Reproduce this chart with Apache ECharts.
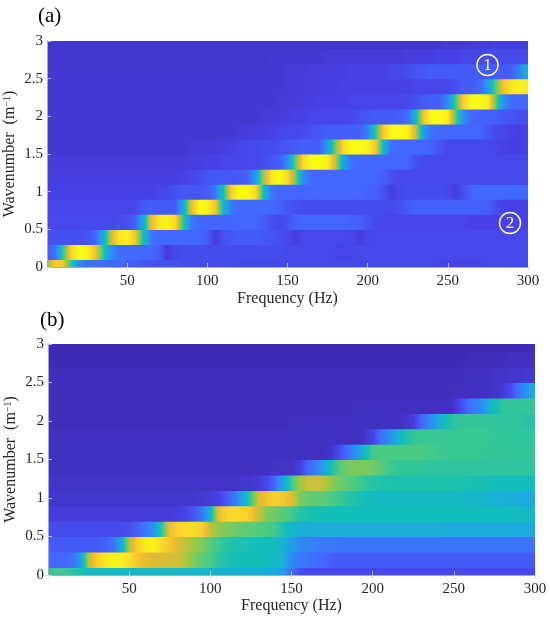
<!DOCTYPE html>
<html lang="en">
<head>
<meta charset="UTF-8">
<title>Wavenumber spectrum</title>
<script src="https://cdn.jsdelivr.net/npm/echarts@6/dist/echarts.min.js"></script>
<style>
    html, body { margin: 0; padding: 0; background: #fff; }
    #main { width: 550px; height: 619px; }
</style>
</head>
<body>
<div id="main"></div>
<script type="text/javascript">
// frequency samples (Hz) and wavenumber rows (1/m)
var frequencies = [0,5,10,15,20,25,30,35,40,45,50,55,60,65,70,75,80,85,90,95,
    100,105,110,115,120,125,130,135,140,145,150,155,160,165,170,175,180,185,190,195,
    200,205,210,215,220,225,230,235,240,245,250,255,260,265,270,275,280,285,290,295,300];
var wavenumbers = [0,0.2,0.4,0.6,0.8,1.0,1.2,1.4,1.6,1.8,2.0,2.2,2.4,2.6,2.8,3.0];

// normalised level (0-100), one row per wavenumber, panel (a)
var levelsA = [
    [65,88,85,55,30,22,22,22,21,20, 19,18,16,15,14,14,14,13,13,13, 13,13,13,13,12,12,12,12,12,12, 12,12,12,12,12,12,12,12,12,12, 12,12,12,12,12,12,12,12,12,11, 11,11,11,11,11,12,12,12,12,12, 12],
    [18,22,55,90,100,98,85,55,30,22, 21,21,21,20,18,8,12,13,13,13, 13,13,13,13,13,13,13,13,13,13, 12,12,12,12,12,12,11,11,11,12, 12,12,12,12,12,12,12,12,12,12, 12,12,12,12,12,12,12,12,12,12, 12],
    [14,14,14,14,14,15,20,40,75,95, 98,85,50,25,21,21,21,21,21,20, 18,8,14,16,17,17,17,16,15,14, 12,8,12,12,12,12,12,12,11,8, 11,12,12,12,12,12,12,12,12,12, 12,12,12,12,12,12,12,12,12,12, 12],
    [12,12,12,12,12,12,12,12,12,13, 14,18,40,80,95,98,92,55,25,20, 20,20,20,20,20,20,20,18,14,12, 14,19,20,20,20,20,20,20,19,18, 15,12,11,11,11,11,11,11,11,11, 11,11,11,10,10,10,10,10,10,10, 10],
    [11,11,11,11,11,11,11,11,11,11, 11,12,16,17,17,17,17,40,80,100, 98,85,45,25,21,21,21,21,20,19, 16,14,13,13,13,13,13,13,13,13, 13,13,13,13,14,17,19,19,19,19, 19,19,19,19,19,18,13,10,10,10, 10],
    [10,10,10,10,10,10,10,10,10,10, 10,10,10,10,11,12,14,16,16,16, 17,25,50,88,100,100,92,50,25,20, 20,20,20,20,20,20,20,20,20,20, 19,18,15,8,12,13,13,13,13,13, 12,8,14,20,21,21,21,21,21,21, 21],
    [9,9,9,9,9,9,9,9,9,9, 9,9,9,9,9,9,9,10,11,13, 15,16,16,16,17,18,35,70,95,100, 92,65,30,21,20,20,20,20,20,20, 20,20,18,14,12,12,12,12,12,12, 12,12,12,12,12,12,12,12,12,12, 12],
    [8,8,8,8,8,8,8,8,8,8, 8,8,8,8,8,8,8,8,9,9, 10,10,11,11,11,12,12,13,15,17, 30,62,92,100,100,97,75,38,22,20, 20,20,20,20,20,20,14,12,12,12, 12,12,12,12,12,12,12,12,12,12, 12],
    [7,7,7,7,7,7,7,7,7,7, 7,7,7,7,7,7,7,7,8,8, 8,8,9,10,11,12,12,13,13,14, 16,17,18,18,18,35,65,92,100,100, 98,85,45,22,20,20,20,20,19,15, 12,12,12,12,12,12,11,10,9,9, 10],
    [7,7,7,7,7,7,7,7,7,7, 7,7,7,7,7,7,7,7,7,7, 7,7,7,7,8,8,9,9,10,11, 12,12,13,14,16,18,18,18,18,18, 28,55,88,100,100,98,75,36,22,20, 20,20,20,20,20,16,12,11,10,9, 10],
    [7,7,7,7,7,7,7,7,7,7, 7,7,7,7,7,7,7,7,7,7, 7,7,7,7,7,7,7,8,8,8, 9,10,10,11,11,11,11,11,12,14, 16,17,17,17,18,22,45,85,100,100, 97,60,30,20,19,19,18,16,15,14, 14],
    [7,7,7,7,7,7,7,7,7,7, 7,7,7,7,7,7,7,7,7,7, 7,7,7,7,7,7,7,7,7,8, 8,8,9,9,10,10,10,10,11,11, 11,11,11,11,11,12,14,17,18,18, 30,58,90,100,100,97,62,30,21,20, 20],
    [7,7,7,7,7,7,7,7,7,7, 7,7,7,7,7,7,7,7,7,7, 7,7,7,7,7,7,7,7,7,7, 8,8,8,9,9,9,9,10,10,10, 10,10,10,10,10,10,11,11,11,11, 12,14,17,17,20,35,62,85,95,98, 96],
    [7,7,7,7,7,7,7,7,7,7, 7,7,7,7,7,7,7,7,7,7, 7,7,7,7,7,7,7,7,7,7, 8,8,8,9,9,9,9,9,10,10, 10,10,10,11,12,13,15,16,17,17, 17,17,17,17,17,17,17,17,18,28, 45],
    [6,6,6,6,6,6,6,6,6,6, 6,6,6,6,6,6,6,6,6,6, 6,6,6,6,6,6,6,6,7,7, 7,7,7,7,7,8,8,8,8,8, 8,8,8,8,8,9,9,9,9,10, 10,10,11,11,12,12,13,13,13,13, 13],
    [6,6,6,6,6,6,6,6,6,6, 6,6,6,6,6,6,6,6,6,6, 6,6,6,6,6,6,6,6,6,6, 6,6,6,6,6,6,6,6,6,6, 6,6,6,6,6,6,6,6,6,6, 7,7,7,8,8,8,9,9,9,9, 9]
];

// normalised level (0-100), one row per wavenumber, panel (b)
var levelsB = [
    [57,58,57,55,52,48,48,48,48,48, 47,47,47,47,47,46,46,46,46,46, 45,45,44,44,44,43,42,41,40,35, 22,14,12,12,12,12,12,12,12,12, 12,12,12,12,12,12,12,12,12,12, 12,12,12,12,12,12,12,12,12,12, 12],
    [20,20,20,22,35,72,88,95,98,97, 93,86,80,78,78,77,76,72,66,62, 60,55,52,51,50,50,50,49,48,42, 30,25,24,22,20,18,17,17,17,17, 17,17,17,17,17,17,17,17,17,17, 17,17,17,17,17,17,17,17,17,17, 17],
    [17,17,17,17,17,17,17,18,22,40, 72,88,96,98,92,85,78,74,70,66, 62,58,54,52,52,51,50,50,48,44, 36,30,28,26,25,25,24,24,24,24, 24,24,24,24,24,24,24,24,24,24, 24,24,24,24,24,24,24,24,24,24, 24],
    [13,13,13,13,13,13,13,13,13,13, 14,18,25,32,55,82,90,92,92,88, 74,68,66,65,63,62,61,60,58,52, 45,43,42,42,42,42,42,42,42,42, 42,42,42,42,42,42,42,42,42,41, 41,41,41,41,41,41,41,41,41,40, 40],
    [8,8,8,8,8,8,8,8,8,8, 8,8,8,8,8,8,9,11,16,24, 45,80,90,92,90,86,74,66,64,62, 58,54,52,51,50,50,50,50,50,50, 50,50,50,50,50,50,50,50,50,50, 50,50,50,49,49,49,49,49,49,48, 48],
    [6,6,6,6,6,6,6,6,6,6, 6,6,6,6,6,6,6,6,6,7, 8,10,17,24,40,58,78,85,88,86, 80,66,63,62,62,60,57,54,52,50, 49,48,48,48,48,48,48,48,48,48, 48,47,47,46,45,44,43,42,41,40, 40],
    [5,5,5,5,5,5,5,5,5,5, 5,5,5,5,5,5,5,5,5,5, 5,5,5,5,6,6,8,12,22,38, 58,70,75,76,74,68,64,62,60,56, 54,53,52,52,52,52,52,52,52,52, 52,52,51,51,51,50,50,50,49,49, 48],
    [4,4,4,4,4,4,4,4,4,4, 4,4,4,4,4,4,4,4,4,4, 4,4,4,4,4,4,4,4,5,5, 5,8,20,26,38,52,62,65,66,66, 65,62,58,56,56,56,56,55,55,55, 55,55,55,55,55,55,55,55,55,55, 55],
    [4,4,4,4,4,4,4,4,4,4, 4,4,4,4,4,4,4,4,4,4, 4,4,4,4,4,4,4,4,4,4, 4,4,4,4,4,6,14,24,32,48, 58,60,60,60,60,60,60,59,58,57, 57,57,57,57,56,56,56,56,56,56, 56],
    [4,4,4,4,4,4,4,4,4,4, 4,4,4,4,4,4,4,4,4,4, 4,4,4,4,4,4,4,4,4,4, 4,4,4,4,4,4,4,4,4,5, 10,22,30,42,52,56,57,57,57,57, 57,57,57,57,57,56,56,56,55,55, 55],
    [3,3,3,3,3,3,3,3,3,3, 3,3,3,3,3,3,3,3,3,3, 3,3,3,3,3,3,3,3,3,3, 4,4,4,4,4,4,4,4,4,4, 4,4,4,4,5,8,20,28,40,50, 55,56,56,56,56,56,55,55,55,54, 54],
    [3,3,3,3,3,3,3,3,3,3, 3,3,3,3,3,3,3,3,3,3, 3,3,3,3,3,3,3,3,3,3, 3,3,3,3,3,3,3,3,4,4, 4,4,4,4,4,4,4,4,4,4, 5,14,24,28,38,50,55,56,56,56, 56],
    [3,3,3,3,3,3,3,3,3,3, 3,3,3,3,3,3,3,3,3,3, 3,3,3,3,3,3,3,3,3,3, 3,3,3,3,3,3,3,3,3,3, 3,3,3,3,3,3,3,3,3,3, 4,4,4,4,4,5,7,12,24,34, 42],
    [3,3,3,3,3,3,3,3,3,3, 3,3,3,3,3,3,3,3,3,3, 3,3,3,3,3,3,3,3,3,3, 3,3,3,3,3,3,3,3,3,3, 3,3,3,3,3,3,3,3,3,3, 3,3,4,4,4,5,5,6,6,7, 7],
    [2,2,2,2,2,2,2,2,2,2, 2,2,2,2,2,2,2,2,2,2, 2,2,2,2,2,2,2,2,2,2, 2,2,2,2,2,2,2,2,2,2, 2,2,2,2,2,2,2,2,2,2, 2,2,3,3,3,3,3,4,4,4, 4],
    [2,2,2,2,2,2,2,2,2,2, 2,2,2,2,2,2,2,2,2,2, 2,2,2,2,2,2,2,2,2,2, 2,2,2,2,2,2,2,2,2,2, 2,2,2,2,2,2,2,2,2,2, 2,2,2,2,2,2,2,2,2,2, 2]
];

var freqTicks = [50, 100, 150, 200, 250, 300];
var waveTicks = [0, 0.5, 1, 1.5, 2, 2.5, 3];

// parula colour map
var parulaStops = ['#3e26a8','#4741e5','#4366fd','#2d8cf3','#1ca9df','#12beb9',
                   '#4acb84','#9ec942','#ebba30','#fad32e','#f9fb14'];

function hexRgb(h) {
    return [parseInt(h.substr(1,2),16), parseInt(h.substr(3,2),16), parseInt(h.substr(5,2),16)];
}
var parulaRgb = parulaStops.map(hexRgb);

function parula(t) {
    t = Math.max(0, Math.min(1, t));
    var s = t * (parulaRgb.length - 1);
    var i = Math.min(Math.floor(s), parulaRgb.length - 2);
    var u = s - i, a = parulaRgb[i], b = parulaRgb[i + 1];
    return 'rgb(' + Math.round(a[0] + (b[0]-a[0])*u) + ',' + Math.round(a[1] + (b[1]-a[1])*u) + ',' +
        Math.round(a[2] + (b[2]-a[2])*u) + ')';
}

// one data item per wavenumber row: [fmin, k, fmax, level0, level1, ...]
function buildRows(levels) {
    return wavenumbers.map(function (k, r) {
        return [frequencies[0], k, frequencies[frequencies.length - 1]].concat(levels[r]);
    });
}

// a row is one band with a horizontal gradient through its samples
function renderRow(params, api) {
    var fMin = api.value(0), k = api.value(1), fMax = api.value(2);
    var p0 = api.coord([fMin, k + 0.1]);
    var p1 = api.coord([fMax, k - 0.1]);
    var cs = params.coordSys;
    var shape = echarts.graphic.clipRectByRect({
        x: p0[0], y: p0[1] - 0.6,
        width: p1[0] - p0[0], height: p1[1] - p0[1] + 1.2
    }, { x: cs.x, y: cs.y, width: cs.width, height: cs.height });
    if (!shape) return;
    var stops = [];
    var span = fMax - fMin;
    for (var i = 0; i < frequencies.length - 1; i++) {
        var v0 = api.value(3 + i), v1 = api.value(4 + i);
        var fa = frequencies[i], fb = frequencies[i + 1];
        for (var n = 0; n < 4; n++) {
            stops.push({
                offset: (fa + (fb - fa) * n / 4 - fMin) / span,
                color: parula((v0 + (v1 - v0) * n / 4) / 100)
            });
        }
    }
    stops.push({ offset: 1, color: parula(api.value(3 + frequencies.length - 1) / 100) });
    return {
        type: 'rect',
        shape: shape,
        style: { fill: new echarts.graphic.LinearGradient(0, 0, 1, 0, stops) }
    };
}

var serif = 'Liberation Serif';
var textCol = '#262626';
var frameCol = '#a6a6d2';
var tickStyle = { color: 'rgba(220,220,235,0.7)', width: 1 };

function freqAxis(grid, pos, withLabels, gap) {
    return {
        type: 'value', gridIndex: grid, position: pos, z: 5,
        min: 0, max: 300, interval: 50,
        axisLine: { show: true, lineStyle: { color: frameCol, width: 1 } },
        axisTick: { show: true, inside: true, length: 4, lineStyle: tickStyle },
        axisLabel: {
            show: withLabels, showMinLabel: false, margin: 7,
            color: textCol, fontFamily: serif, fontSize: 15,
            formatter: function (v) { return freqTicks.indexOf(v) >= 0 ? String(v) : ''; }
        },
        splitLine: { show: false },
        name: withLabels ? 'Frequency (Hz)' : '',
        nameLocation: 'middle', nameGap: gap, nameMoveOverlap: false,
        nameTextStyle: { color: textCol, fontFamily: serif, fontSize: 16 }
    };
}

function waveAxis(grid, pos, withLabels) {
    return {
        type: 'value', gridIndex: grid, position: pos, z: 5,
        min: 0, max: 3, interval: 0.5,
        axisLine: { show: true, lineStyle: { color: frameCol, width: 1 } },
        axisTick: { show: true, inside: true, length: 4, lineStyle: tickStyle },
        axisLabel: {
            show: withLabels, margin: 4,
            color: textCol, fontFamily: serif, fontSize: 15,
            formatter: function (v) { return waveTicks.indexOf(v) >= 0 ? String(v) : ''; }
        },
        splitLine: { show: false },
        name: withLabels ? 'Wavenumber  (m{s|\u22121})' : '',
        nameLocation: 'middle', nameGap: 29, nameRotate: 90, nameMoveOverlap: false,
        nameTextStyle: {
            color: textCol, fontFamily: serif, fontSize: 16,
            rich: { s: { fontFamily: serif, fontSize: 10, color: textCol, verticalAlign: 'top' } }
        }
    };
}

var myChart = echarts.init(document.getElementById('main'));

var option = {
    backgroundColor: '#fff',
    animation: false,
    title: [
        { text: '(a)', left: 38, top: 6, padding: 0,
          textStyle: { fontFamily: serif, fontSize: 21, fontWeight: 'normal', color: '#000' } },
        { text: '(b)', left: 40, top: 310, padding: 0,
          textStyle: { fontFamily: serif, fontSize: 21, fontWeight: 'normal', color: '#000' } }
    ],
    grid: [
        { left: 47, top: 41, width: 481, height: 226, outerBoundsMode: 'none', containLabel: false },
        { left: 48, top: 344, width: 487, height: 231, outerBoundsMode: 'none', containLabel: false }
    ],
    xAxis: [
        freqAxis(0, 'bottom', true, 24),
        freqAxis(0, 'top', false, 0),
        freqAxis(1, 'bottom', true, 23),
        freqAxis(1, 'top', false, 0)
    ],
    yAxis: [
        waveAxis(0, 'left', true),
        waveAxis(0, 'right', false),
        waveAxis(1, 'left', true),
        waveAxis(1, 'right', false)
    ],
    series: [
        { type: 'custom', name: '(a)', xAxisIndex: 0, yAxisIndex: 0, silent: true,
          encode: { x: 0, y: 1 }, renderItem: renderRow, data: buildRows(levelsA) },
        { type: 'custom', name: '(b)', xAxisIndex: 2, yAxisIndex: 2, silent: true,
          encode: { x: 0, y: 1 }, renderItem: renderRow, data: buildRows(levelsB) }
    ],
    graphic: [
        { type: 'circle', z: 100, shape: { cx: 487.5, cy: 65, r: 10.5 },
          style: { fill: 'none', stroke: '#fff', lineWidth: 1.4 } },
        { type: 'text', z: 100, x: 487.5, y: 66,
          style: { text: '1', fill: '#fff', fontFamily: serif, fontSize: 17, align: 'center', verticalAlign: 'middle' } },
        { type: 'circle', z: 100, shape: { cx: 510, cy: 223, r: 10.5 },
          style: { fill: 'none', stroke: '#fff', lineWidth: 1.4 } },
        { type: 'text', z: 100, x: 510, y: 224,
          style: { text: '2', fill: '#fff', fontFamily: serif, fontSize: 17, align: 'center', verticalAlign: 'middle' } }
    ]
};

myChart.setOption(option);
</script>
</body>
</html>
